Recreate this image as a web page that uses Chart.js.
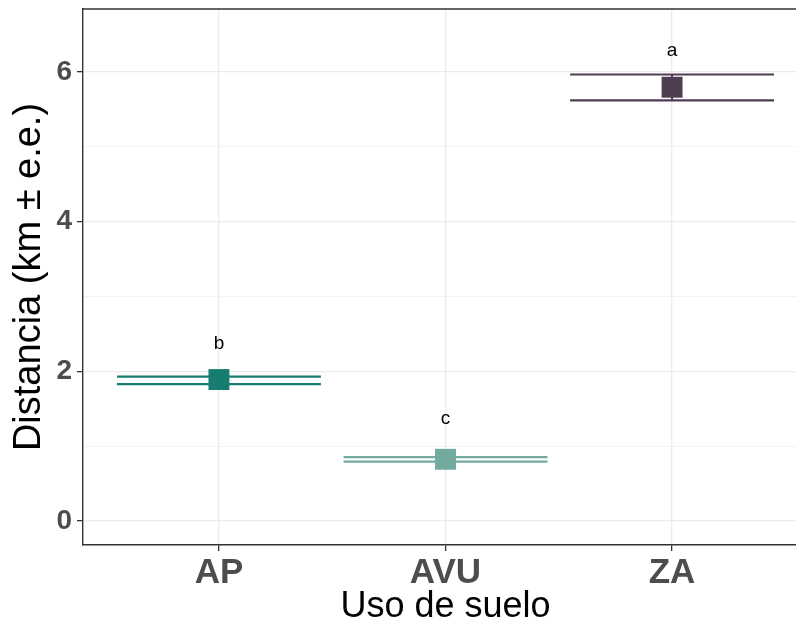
<!DOCTYPE html>
<html>
<head>
<meta charset="utf-8">
<script src="https://cdn.jsdelivr.net/npm/chart.js@4.4.1/dist/chart.umd.min.js"></script>
<style>
  html, body { margin: 0; padding: 0; background: #ffffff; overflow: hidden; }
  #wrap { width: 796px; height: 624px; overflow: hidden; }
</style>
</head>
<body>
<div id="wrap"><canvas id="chart" width="830" height="624"></canvas></div>
<script>
// Land use categories and distance (km) mean +- s.e.
const categories = ["AP", "AVU", "ZA"];
const means = [1.89, 0.825, 5.795];
const upperSE = [1.93, 0.855, 5.965];
const lowerSE = [1.83, 0.795, 5.62];
const letters = ["b", "c", "a"];
const letterY = [2.37, 1.37, 6.28];
const colors = ["#177d70", "#73aaa0", "#4f3d54"];
const yTicks = [0, 1, 2, 3, 4, 5, 6];

const barHalf = 0.45;

// error bars: upper cap, lower cap, and the short vertical stem
const datasets = [];
categories.forEach((c, i) => {
  const x = i + 1;
  [upperSE[i], lowerSE[i]].forEach(v => {
    datasets.push({
      type: "line",
      data: [{ x: x - barHalf, y: v }, { x: x + barHalf, y: v }],
      borderColor: colors[i],
      borderWidth: 2.2,
      pointRadius: 0,
      fill: false
    });
  });
  datasets.push({
    type: "line",
    data: [{ x: x, y: lowerSE[i] }, { x: x, y: upperSE[i] }],
    borderColor: colors[i],
    borderWidth: 2,
    pointRadius: 0,
    fill: false
  });
});
datasets.push({
  type: "scatter",
  data: means.map((m, i) => ({ x: i + 1, y: m })),
  pointStyle: "rect",
  pointRadius: 14.8,
  backgroundColor: colors,
  borderWidth: 0
});

// top border of the panel and the group letters
const panelExtras = {
  id: "panelExtras",
  afterDatasetsDraw(chart) {
    const { ctx, chartArea, scales } = chart;
    ctx.save();
    ctx.strokeStyle = "#333333";
    ctx.lineWidth = 1.4;
    ctx.beginPath();
    ctx.moveTo(chartArea.left, chartArea.top);
    ctx.lineTo(chartArea.right, chartArea.top);
    ctx.stroke();
    ctx.fillStyle = "#000000";
    ctx.font = "19px 'Liberation Sans', Arial, sans-serif";
    ctx.textAlign = "center";
    ctx.textBaseline = "middle";
    letters.forEach((l, i) => {
      ctx.fillText(l, scales.x.getPixelForValue(i + 1), scales.y.getPixelForValue(letterY[i]));
    });
    ctx.restore();
  }
};

function noPad(s) {
  s.paddingTop = 0;
  s.paddingBottom = 0;
  s.paddingLeft = 0;
  s.paddingRight = 0;
}

Chart.defaults.font.family = "'Liberation Sans', Arial, sans-serif";

new Chart(document.getElementById("chart"), {
  type: "scatter",
  data: { datasets: datasets },
  plugins: [panelExtras],
  options: {
    animation: false,
    responsive: false,
    layout: { autoPadding: false, padding: { top: 9, right: 22, left: 0, bottom: 0 } },
    plugins: { legend: { display: false }, tooltip: { enabled: false } },
    scales: {
      x: {
        type: "linear",
        min: 0.4,
        max: 3.6,
        afterBuildTicks: s => { s.ticks = categories.map((c, i) => ({ value: i + 1 })); },
        afterFit: s => { s.height = 79; noPad(s); },
        ticks: {
          autoSkip: false,
          maxRotation: 0,
          padding: 1,
          color: "#4d4d4d",
          font: { size: 35, weight: "bold" },
          callback: v => categories[v - 1]
        },
        grid: { color: "#ebebeb", lineWidth: 1.3, tickColor: "#333333", tickLength: 6, tickWidth: 1.3 },
        border: { display: true, color: "#333333", width: 1.4 },
        title: { display: true, text: "Uso de suelo", color: "#000000", font: { size: 36 }, padding: { top: 0, bottom: -5 } }
      },
      y: {
        min: -0.32,
        max: 6.84,
        afterBuildTicks: s => { s.ticks = yTicks.map(v => ({ value: v })); },
        afterFit: s => { s.width = 83; noPad(s); },
        ticks: {
          autoSkip: false,
          padding: 5,
          color: "#4d4d4d",
          font: { size: 28, weight: "bold" },
          callback: v => (v % 2 === 0 ? String(v) : "")
        },
        grid: {
          color: c => (c.tick && c.tick.value % 2 === 0 ? "#ebebeb" : "#f3f3f3"),
          lineWidth: c => (c.tick && c.tick.value % 2 === 0 ? 1.3 : 1),
          tickColor: c => (c.tick && c.tick.value % 2 === 0 ? "#333333" : "rgba(0,0,0,0)"),
          tickLength: 6,
          tickWidth: 1.3
        },
        border: { display: true, color: "#333333", width: 1.4 },
        title: { display: true, text: "Distancia (km ± e.e.)", color: "#000000", font: { size: 38 }, padding: { top: 7, bottom: 0 } }
      }
    }
  }
});
</script>
</body>
</html>
